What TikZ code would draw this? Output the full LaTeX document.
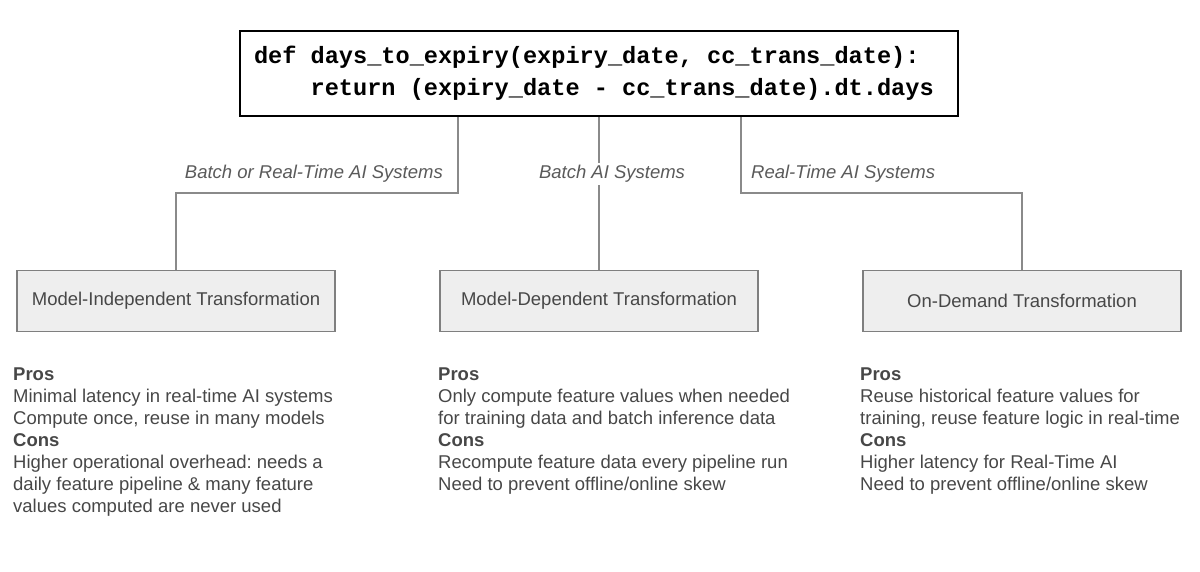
\documentclass[tikz,border=0pt]{standalone}
\usepackage{fontspec}
\setmainfont{Liberation Sans}
\setmonofont{Liberation Mono}
\frenchspacing
\definecolor{txtgray}{HTML}{474747}
\definecolor{linegray}{HTML}{8A8A8A}
\definecolor{boxfill}{HTML}{EEEEEE}
\definecolor{boxline}{HTML}{7F7F7F}
\tikzset{
  codebox/.style={draw=black,line width=2.6pt,text width=690pt,minimum height=85pt,align=flush left,inner xsep=14pt,inner ysep=0pt,font=\ttfamily\bfseries\fontsize{23.6}{32}\selectfont},
  kindbox/.style={draw=boxline,fill=boxfill,line width=1.3pt,minimum width=318pt,minimum height=61pt,text=txtgray,font=\fontsize{18.5}{20}\selectfont},
  syslabel/.style={text=txtgray!90,inner sep=2pt,font=\itshape\fontsize{18.5}{20}\selectfont},
  proscons/.style={anchor=north west,align=flush left,inner sep=0pt,text=txtgray,font=\fontsize{18.5}{22}\selectfont},
  conn/.style={draw=linegray,line width=1.2pt}
}
\begin{document}
\begin{tikzpicture}[x=1pt,y=-1pt]
	\useasboundingbox (0,0) rectangle (1200,572);
	\path
	(458,193) coordinate (lsplit)
	(741,193) coordinate (rsplit)
	;
	\node[codebox] (code) at (599,73.5) {def days\_to\_expiry(expiry\_date, cc\_trans\_date):\\
	\ \ \ \ return (expiry\_date - cc\_trans\_date).dt.days};
	\node[kindbox] (mi) at (176,301) {Model-Independent Transformation};
	\node[kindbox] (md) at (599,301) {Model-Dependent Transformation};
	\node[kindbox] (od) at (1022,301) {On-Demand Transformation};
	\draw[conn] (lsplit |- code.south) -- (lsplit) -| (mi.north);
	\draw[conn] (code.south) -- (md.north);
	\draw[conn] (rsplit |- code.south) -- (rsplit) -| (od.north);
	\node[syslabel,anchor=east] (milabel) at (445,174) {Batch or Real-Time AI Systems};
	\node[syslabel,fill=white] (mdlabel) at (612,174) {Batch AI Systems};
	\node[syslabel,anchor=west] (odlabel) at (749,174) {Real-Time AI Systems};
	\node[proscons] (mitext) at (13,367.8) {\textbf{Pros}\\Minimal latency in real-time AI systems\\Compute once, reuse in many models\\\textbf{Cons}\\Higher operational overhead: needs a\\daily feature pipeline \& many feature\\values computed are never used};
	\node[proscons] (mdtext) at (438,367.8) {\textbf{Pros}\\Only compute feature values when needed\\for training data and batch inference data\\\textbf{Cons}\\Recompute feature data every pipeline run\\Need to prevent offline/online skew};
	\node[proscons] (odtext) at (860,367.8) {\textbf{Pros}\\Reuse historical feature values for\\training, reuse feature logic in real-time\\\textbf{Cons}\\Higher latency for Real-Time AI\\Need to prevent offline/online skew};
\end{tikzpicture}
\end{document}
